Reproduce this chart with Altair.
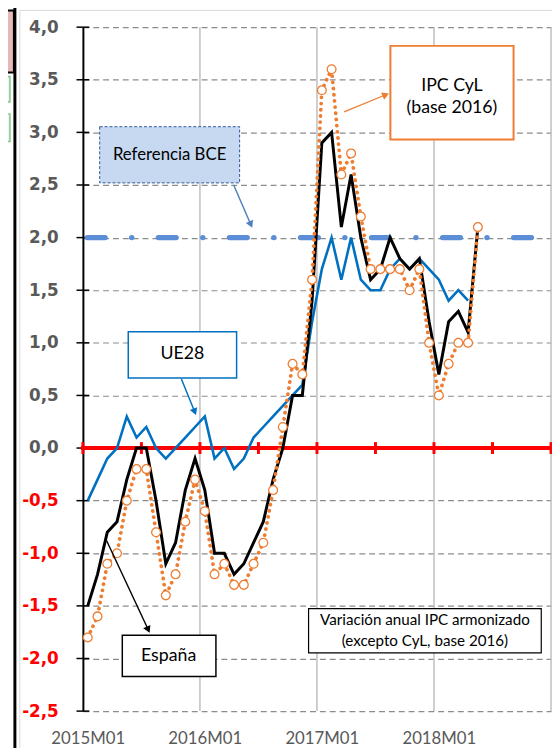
import math
import altair as alt
import pandas as pd

# ---------------- data (annual rates, %) ----------------
periods = [f"{y}M{m:02d}" for y in range(2015, 2019) for m in range(1, 13)]
espana = [-1.5, -1.2, -0.8, -0.7, -0.3, 0.0, 0.0, -0.5, -1.1, -0.9, -0.4, -0.1,
          -0.4, -1.0, -1.0, -1.2, -1.1, -0.9, -0.7, -0.3, 0.0, 0.5, 0.5, 1.4,
          2.9, 3.0, 2.1, 2.6, 2.0, 1.6, 1.7, 2.0, 1.8, 1.7, 1.8, 1.2,
          0.7, 1.2, 1.3, 1.1, 2.1]
ue28 = [-0.5, -0.3, -0.1, 0.0, 0.3, 0.1, 0.2, 0.0, -0.1, 0.0, 0.1, 0.2,
        0.3, -0.1, 0.0, -0.2, -0.1, 0.1, 0.2, 0.3, 0.4, 0.5, 0.6, 1.2,
        1.7, 2.0, 1.6, 2.0, 1.6, 1.5, 1.5, 1.7, 1.8, 1.7, 1.8, 1.7,
        1.6, 1.4, 1.5, 1.4]
cyl = [-1.8, -1.6, -1.1, -1.0, -0.5, -0.2, -0.2, -0.8, -1.4, -1.2, -0.7, -0.3,
       -0.6, -1.2, -1.1, -1.3, -1.3, -1.1, -0.9, -0.4, 0.2, 0.8, 0.7, 1.6,
       3.4, 3.6, 2.6, 2.8, 2.2, 1.7, 1.7, 1.7, 1.7, 1.5, 1.7, 1.0,
       0.5, 0.8, 1.0, 1.0, 2.1]
bce_ref = 2.0
x_label_periods = ["2015M01", "2016M01", "2017M01", "2018M01"]
y_ticks = [-2.5, -2.0, -1.5, -1.0, -0.5, 0.0, 0.5, 1.0, 1.5, 2.0, 2.5, 3.0, 3.5, 4.0]

# ---------------- geometry / scales ----------------
N_CAT = 48
W, H = 475, 694
Y_MIN, Y_MAX = -2.5, 4.0
PX_M = W / N_CAT
PX_V = H / (Y_MAX - Y_MIN)

xs = alt.Scale(domain=[0, N_CAT], nice=False, zero=False)
ys = alt.Scale(domain=[Y_MIN, Y_MAX], nice=False, zero=False)

label_arr = "[" + ",".join(f"'{p}'" for p in x_label_periods) + "]"
x_axis = alt.Axis(values=[12 * k + 0.5 for k in range(len(x_label_periods))],
                  labelExpr=f"{label_arr}[floor(datum.value/12)]",
                  domain=False, ticks=False, grid=False, title=None,
                  labelFont="Lato", labelFontSize=17, labelColor="#595959",
                  labelPadding=20, labelOverlap=False, labelFlush=False)
y_axis = alt.Axis(values=y_ticks,
                  labelExpr="(datum.value < 0 ? '-' : '') + replace(format(abs(datum.value), '.1f'), '.', ',')",
                  labelColor={"condition": {"test": "datum.value < 0", "value": "#FF0000"}, "value": "#595959"},
                  labelFont="DejaVu Sans", labelFontWeight="bold", labelFontSize=17,
                  labelPadding=25, ticks=False, domain=True, domainColor="black", domainWidth=2,
                  grid=True, gridColor="#8C8C8C", gridDash=[6, 4], gridWidth=1.2, title=None)


def series_df(vals):
    return pd.DataFrame({"m": [i + 0.5 for i in range(len(vals))], "v": vals})


def X(field):
    return alt.X(field, type="quantitative", scale=xs, axis=x_axis)


def Y(field):
    return alt.Y(field, type="quantitative", scale=ys, axis=y_axis)


layers = []

# vertical gridlines
layers.append(alt.Chart(pd.DataFrame({"m": [12, 24, 36, 48], "v": [Y_MIN] * 4, "w": [Y_MAX] * 4}))
              .mark_rule(color="#BFBFBF", strokeWidth=1.5)
              .encode(x=X("m"), y=Y("v"), y2="w"))

# y axis crossing ticks
layers.append(alt.Chart(pd.DataFrame({"v": y_ticks, "a": [-6.5 / PX_M] * len(y_ticks), "b": [6.5 / PX_M] * len(y_ticks)}))
              .mark_rule(color="black", strokeWidth=1.5)
              .encode(x=X("a"), x2="b", y=Y("v")))

# red zero axis with ticks
layers.append(alt.Chart(pd.DataFrame({"a": [-0.2], "b": [N_CAT], "v": [0.0]}))
              .mark_rule(color="#FF0000", strokeWidth=4).encode(x=X("a"), x2="b", y=Y("v")))
layers.append(alt.Chart(pd.DataFrame({"m": list(range(0, N_CAT + 1, 6)), "a": [-6 / PX_V] * 9, "b": [6 / PX_V] * 9}))
              .mark_rule(color="#FF0000", strokeWidth=3).encode(x=X("m"), y=Y("a"), y2="b"))

# BCE reference
layers.append(alt.Chart(pd.DataFrame({"m": [0, N_CAT], "v": [bce_ref, bce_ref]}))
              .mark_line(color="#5B8ED6", strokeWidth=5.5, strokeCap="round",
                         strokeDash=[18, 27, 0.1, 27], strokeDashOffset=67.6)
              .encode(x=X("m"), y=Y("v")))

# UE28
layers.append(alt.Chart(series_df(ue28)).mark_line(color="#0070C0", strokeWidth=2.6)
              .encode(x=X("m"), y=Y("v")))
# España
layers.append(alt.Chart(series_df(espana)).mark_line(color="black", strokeWidth=3)
              .encode(x=X("m"), y=Y("v")))
# IPC CyL dotted + markers
layers.append(alt.Chart(series_df(cyl)).mark_line(color="#ED7D31", strokeWidth=3.8, strokeCap="round",
                                                  strokeDash=[0.1, 6.2])
              .encode(x=X("m"), y=Y("v")))
layers.append(alt.Chart(series_df(cyl)).mark_point(shape="circle", size=80, filled=True, fill="white",
                                                   stroke="#ED7D31", strokeWidth=1.3, opacity=1)
              .encode(x=X("m"), y=Y("v")))


# ---------------- annotations ----------------
def box(m1, m2, v1, v2, fill, stroke, width=1.5, dash=None):
    df = pd.DataFrame({"a": [m1], "b": [m2], "c": [v1], "d": [v2]})
    kw = dict(fill=fill, stroke=stroke, strokeWidth=width)
    if dash:
        kw["strokeDash"] = dash
    return alt.Chart(df).mark_rect(**kw).encode(x=X("a"), x2="b", y=Y("c"), y2="d")


def label(m, v, text, size, color="black"):
    df = pd.DataFrame({"a": [m], "c": [v], "t": [text]})
    return alt.Chart(df).mark_text(font="Lato", fontSize=size, color=color, align="center",
                                   baseline="middle").encode(x=X("a"), y=Y("c"), text="t:N")


def arrow(m1, v1, m2, v2, color, width=1.3):
    dxp = (m2 - m1) * PX_M
    dyp = -(v2 - v1) * PX_V
    L = math.hypot(dxp, dyp)
    ux, uy = dxp / L, dyp / L
    ang = math.degrees(math.atan2(ux, -uy)) % 360
    cm = m2 - ux * 4 / PX_M
    cv = v2 + uy * 4 / PX_V
    em = m2 - ux * 6 / PX_M
    ev = v2 + uy * 6 / PX_V
    line = alt.Chart(pd.DataFrame({"a": [m1], "b": [em], "c": [v1], "d": [ev]})).mark_rule(
        color=color, strokeWidth=width).encode(x=X("a"), x2="b", y=Y("c"), y2="d")
    head = alt.Chart(pd.DataFrame({"a": [cm], "c": [cv]})).mark_point(
        shape="triangle-up", size=64, filled=True, color=color, opacity=1, angle=ang).encode(
        x=X("a"), y=Y("c"))
    return [line, head]


# IPC CyL
layers += arrow(26.78, 3.195, 31.43, 3.372, "#ED7D31")
layers.append(box(31.53, 44.16, 3.822, 2.932, "white", "#ED7D31", 2))
layers.append(label(37.84, 3.44, "IPC CyL", 18))
layers.append(label(37.84, 3.23, "(base 2016)", 18))
# Referencia BCE
layers += arrow(15.46, 2.50, 17.38, 2.09, "#4F81BD", 1.5)
layers.append(box(1.72, 16.07, 3.054, 2.520, "#C6D9F1", "#2F5597", 1, [3, 2]))
layers.append(label(8.89, 2.782, "Referencia BCE", 17))
# UE28
layers += arrow(10.10, 0.656, 11.62, 0.31, "#0070C0", 1.5)
layers.append(box(4.65, 15.76, 1.106, 0.666, "white", "#0070C0", 1.5))
layers.append(label(10.21, 0.89, "UE28", 18))
# España
layers += arrow(2.43, -0.88, 6.87, -1.76, "black")
layers.append(box(4.04, 13.64, -1.779, -2.172, "white", "black", 1.5))
layers.append(label(8.79, -1.976, "España", 18))
# Variación note
layers.append(box(23.14, 47.0, -1.526, -1.947, "white", "black", 1.2))
layers.append(label(35.07, -1.638, "Variación anual IPC armonizado", 15.4))
layers.append(label(35.07, -1.835, "(excepto CyL, base 2016)", 15.4))

# ---------------- spreadsheet surroundings (outside plot) ----------------
one = pd.DataFrame({"k": [0]})
layers.append(alt.Chart(one).mark_rect(fillOpacity=0, stroke="#D9D9D9", strokeWidth=1)
              .encode(x=alt.value(-64), x2=alt.value(620), y=alt.value(-17), y2=alt.value(760)))
layers.append(alt.Chart(one).mark_rect(fill="#E6B8B7", stroke="black", strokeWidth=2)
              .encode(x=alt.value(-90), x2=alt.value(-70), y=alt.value(-17), y2=alt.value(46)))
layers.append(alt.Chart(one).mark_rect(fill="#EBF6EC", stroke="#7CCB8A", strokeWidth=1.5)
              .encode(x=alt.value(-90), x2=alt.value(-74), y=alt.value(50), y2=alt.value(76)))
layers.append(alt.Chart(one).mark_rect(fill="#EBF6EC", stroke="#7CCB8A", strokeWidth=1.5)
              .encode(x=alt.value(-90), x2=alt.value(-74), y=alt.value(88), y2=alt.value(116)))
layers.append(alt.Chart(one).mark_rule(color="black", strokeWidth=3)
              .encode(x=alt.value(-69), y=alt.value(-20), y2=alt.value(740)))

chart = alt.layer(*layers).properties(
    width=W, height=H,
    padding={"left": 76, "top": 14, "right": 1, "bottom": 32},
    autosize="none",
    background="white",
).configure_view(stroke="transparent")

chart.save("out.html", embed_options={"renderer": "svg", "actions": False})
